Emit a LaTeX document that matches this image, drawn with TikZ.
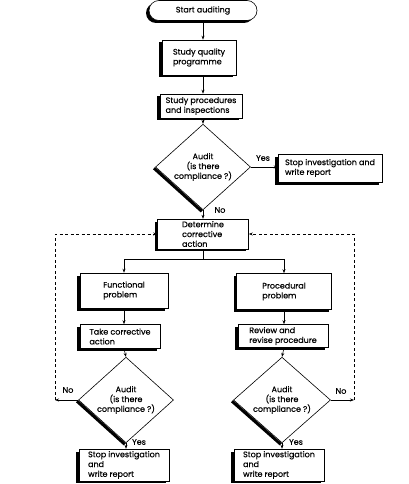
\documentclass[tikz,border=0pt]{standalone}
\usepackage{fontspec}
\setmainfont{Poppins}[FakeBold=0.4]
\usetikzlibrary{shapes.geometric,shapes.misc,shadows,arrows.meta}
\begin{document}
\begin{tikzpicture}[x=1pt,y=-1pt,
  font=\fontsize{8}{9.8}\selectfont,
  >={Stealth[length=4pt,width=3pt]},
  every path/.style={line width=0.6pt},
  shad/.style={drop shadow={shadow xshift=-3pt,shadow yshift=-2.5pt,opacity=1,fill=black}},
  box/.style={draw,fill=white,inner sep=2pt,align=left,shad},
  term/.style={draw,fill=white,rounded rectangle,inner sep=2pt,shad},
  dia/.style={draw,fill=white,diamond,inner sep=0pt,align=center},
  lab/.style={inner sep=1pt},
  thk/.style={line width=3pt,line cap=butt}]
\useasboundingbox (0,0) rectangle (409,484);

\node[term,minimum width=112pt,minimum height=20pt] (start) at (203,10.5) {Start auditing};
\node[box,minimum width=74pt,minimum height=35pt] (b1) at (199,57.5) {Study quality\\programme};
\node[box,minimum width=82pt,minimum height=24pt] (b2) at (201,106) {Study procedures\\and inspections};
\node[dia,minimum width=95pt,minimum height=73pt] (d1) at (203,167) {Audit\\(is there\\compliance ?)};
\node[box,minimum width=104pt,minimum height=28pt] (s1) at (330,168) {Stop investigation and\\write report};
\node[box,minimum width=91pt,minimum height=28pt] (det) at (203,234) {Determine\\corrective\\action};
\node[box,minimum width=88pt,minimum height=35pt] (fp) at (124,290.5) {Functional\\problem};
\node[box,minimum width=95pt,minimum height=36pt] (pp) at (284,291.5) {Procedural\\problem};
\node[box,minimum width=80pt,minimum height=24pt] (tc) at (120,336.5) {Take corrective\\action};
\node[box,minimum width=90pt,minimum height=23pt] (rv) at (283,336) {Review and\\revise procedure};
\node[dia,minimum width=95pt,minimum height=70pt] (d2) at (126,400) {Audit\\(is there\\compliance ?)};
\node[dia,minimum width=97pt,minimum height=70pt] (d3) at (282,400) {Audit\\(is there\\compliance ?)};
\node[box,minimum width=90pt,minimum height=26pt] (s2) at (124,465) {Stop investigation\\and\\write report};
\node[box,minimum width=90pt,minimum height=26pt] (s3) at (279,465) {Stop investigation\\and\\write report};

% thick lower-left edges of the diamonds
\foreach \d in {d1,d2,d3}{
  \draw[thk] ([shift={(-1.2pt,-1.2pt)}]\d.west) -- ([shift={(-1.2pt,-1.2pt)}]\d.south);
}

% coordinates
\coordinate (nl) at (55,400);
\coordinate (nr) at (354,400);

% main column
\draw[->] (start.south) -- (start.south |- b1.north);
\draw[->] (b1.south -| start) -- (b2.north -| start);
\draw[->] (b2.south -| start) -- (d1.north);
\draw[->] (d1.south) -- (det.north -| d1.south);
\draw[->] (d1.east) -- (s1.west |- d1.east);

% branch
\draw (det.south) -- ++(0,10) coordinate (br);
\draw[->] (br) -| (fp.north);
\draw[->] (br) -| (pp.north);
\draw[->] (fp.south) -- (fp.south |- tc.north);
\draw[->] (pp.south) -- (pp.south |- rv.north);
\draw[->] (tc.south -| fp.south) -- (d2.north);
\draw[->] (rv.south -| pp.south) -- (d3.north);
\draw[->] (d2.south) -- (d2.south |- s2.north);
\draw[->] (d3.south) -- (d3.south |- s3.north);

% no loops
\draw[->] (d2.west) -- (nl);
\draw[->] (d3.east) -- (nr);
\draw[dashed,dash pattern=on 3pt off 2.5pt,->] (nl) |- (det.west);
\draw[dashed,dash pattern=on 3pt off 2.5pt,->] (nr) |- (det.east);

% labels
\node[lab] (yes1) at (263,158) {Yes};
\node[lab] (no1) at (220,210) {No};
\node[lab] (no2) at (68,390) {No};
\node[lab] (no3) at (341,391) {No};
\node[lab] (yes2) at (139,442) {Yes};
\node[lab] (yes3) at (296,442) {Yes};
\end{tikzpicture}
\end{document}
